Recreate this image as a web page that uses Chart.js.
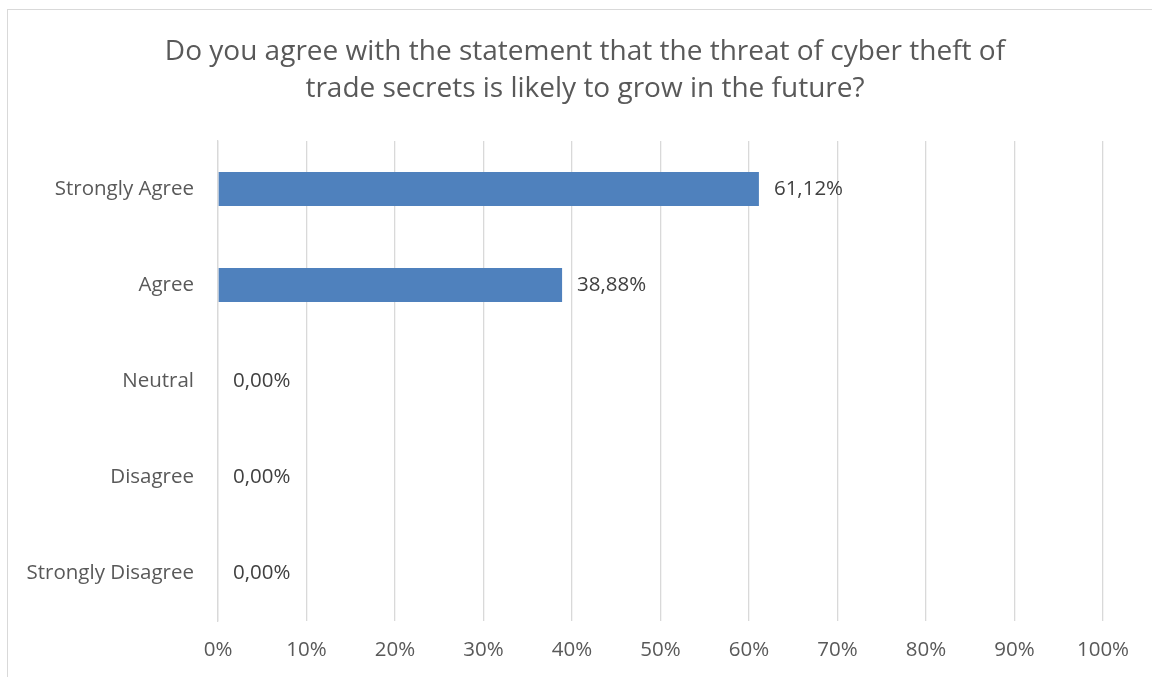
<!DOCTYPE html>
<html>
<head>
<meta charset="utf-8">
<script src="https://cdn.jsdelivr.net/npm/chart.js@4/dist/chart.umd.min.js"></script>
<style>
  html, body { margin: 0; padding: 0; background: #fff; overflow: hidden; }
  #frame { position: absolute; left: 7px; top: 9px; width: 1170px; height: 700px; border: 1px solid #d9d9d9; box-sizing: border-box; }
  #wrap { position: absolute; left: 0; top: 0; width: 1152px; height: 677px; }
</style>
</head>
<body>
<div id="frame"></div>
<div id="wrap"><canvas id="chart" width="1152" height="677"></canvas></div>
<script>
const titleLines = ['Do you agree with the statement that the threat of cyber theft of', 'trade secrets is likely to grow in the future?'];
const answers = ['Strongly Agree', 'Agree', 'Neutral', 'Disagree', 'Strongly Disagree'];
const shares = [61.12, 38.88, 0, 0, 0];
const xTicks = [0, 10, 20, 30, 40, 50, 60, 70, 80, 90, 100];

const FONT = '"Open Sans", Lato, sans-serif';
const TEXT = '#595959';
const GRID = '#d9d9d9';

const fmtPct = v => v.toFixed(2).replace('.', ',') + '%';

// value labels drawn just past the end of each bar
const barLabels = {
  id: 'barLabels',
  afterDatasetsDraw(chart) {
    const ctx = chart.ctx;
    const meta = chart.getDatasetMeta(0);
    ctx.save();
    ctx.font = '20.5px ' + FONT;
    ctx.fillStyle = '#404040';
    ctx.textAlign = 'left';
    ctx.textBaseline = 'middle';
    meta.data.forEach((bar, i) => {
      ctx.fillText(fmtPct(shares[i]), bar.x + 15, bar.y);
    });
    ctx.restore();
  }
};

// title centred on the whole frame rather than on the plot
const frameTitle = {
  id: 'frameTitle',
  afterDraw(chart) {
    const ctx = chart.ctx;
    ctx.save();
    ctx.font = '28px ' + FONT;
    ctx.fillStyle = TEXT;
    ctx.textAlign = 'center';
    ctx.textBaseline = 'middle';
    titleLines.forEach((line, i) => ctx.fillText(line, 585, 52 + i * 37));
    ctx.restore();
  }
};

new Chart(document.getElementById('chart'), {
  type: 'bar',
  data: {
    labels: answers,
    datasets: [{
      data: shares,
      backgroundColor: '#4f81bd',
      borderWidth: 0,
      categoryPercentage: 1,
      barPercentage: 0.355
    }]
  },
  options: {
    indexAxis: 'y',
    responsive: false,
    animation: false,
    layout: { padding: { left: 0, right: 49, top: 141, bottom: 0 } },
    scales: {
      x: {
        min: 0,
        max: 100,
        afterBuildTicks: s => { s.ticks = xTicks.map(v => ({ value: v })); },
        afterFit: s => { s.height = 56; },
        grid: { color: GRID, lineWidth: 1.3, drawTicks: false },
        border: { display: false },
        ticks: {
          padding: 17,
          color: TEXT,
          font: { family: FONT, size: 20.5 },
          callback: v => v + '%'
        }
      },
      y: {
        afterFit: s => { s.width = 218; },
        grid: { display: false, drawTicks: false },
        border: { display: true, color: GRID, width: 1.3 },
        ticks: {
          padding: 24,
          color: TEXT,
          font: { family: FONT, size: 20.5 }
        }
      }
    },
    plugins: {
      legend: { display: false },
      tooltip: { enabled: false },
      title: { display: false }
    }
  },
  plugins: [barLabels, frameTitle]
});
</script>
</body>
</html>
